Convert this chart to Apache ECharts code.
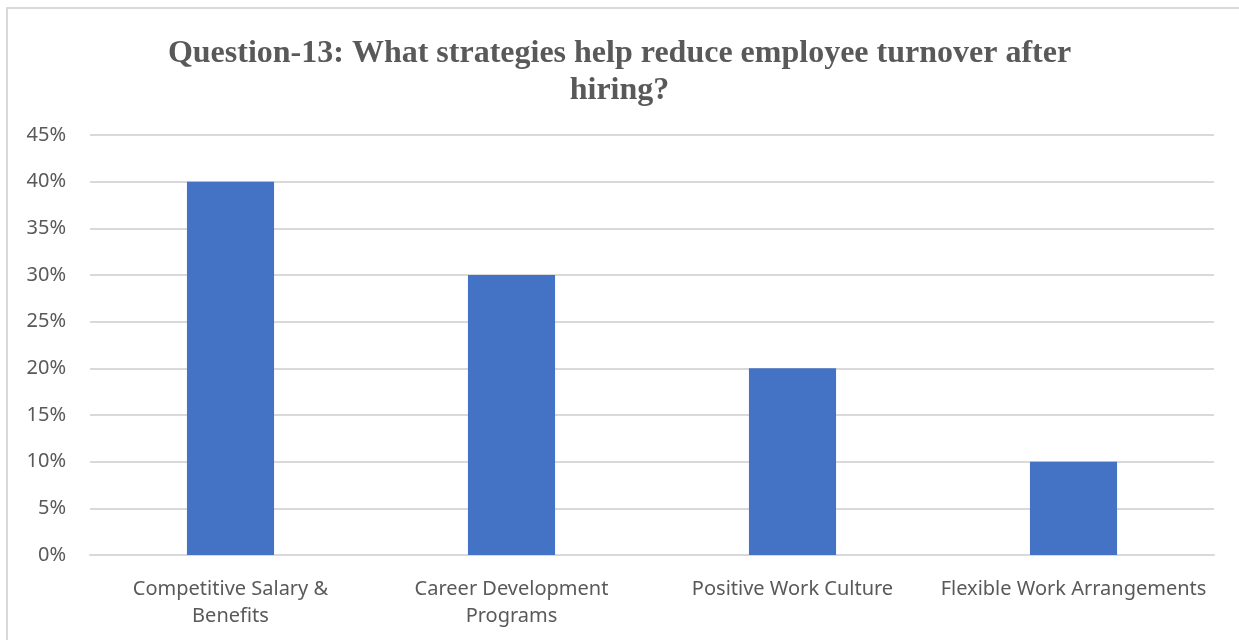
<!DOCTYPE html>
<html>
<head>
<meta charset="utf-8">
<script src="https://cdn.jsdelivr.net/npm/echarts@6/dist/echarts.min.js"></script>
<style>
  html, body { margin: 0; padding: 0; background: #fff; overflow: hidden; }
  #wrap { position: relative; width: 1239px; height: 640px; overflow: hidden; }
  #chart { width: 1239px; height: 640px; }
  #frame {
    position: absolute; left: 6px; top: 7px;
    width: 1400px; height: 800px;
    border: 2px solid #d9d9d9; pointer-events: none;
  }
</style>
</head>
<body>
<div id="wrap">
  <div id="chart"></div>
  <div id="frame"></div>
</div>
<script>
// Survey question and answer categories
const titleText = 'Question-13: What strategies help reduce employee turnover after\nhiring?';
const categories = [
  'Competitive Salary &\nBenefits',
  'Career Development\nPrograms',
  'Positive Work Culture',
  'Flexible Work Arrangements'
];
// Share of respondents (%)
const shares = [40, 30, 20, 10];
// Value axis range (%)
const axisMin = 0;
const axisMax = 45;
const axisStep = 5;

const textGray = '#595959';
const gridGray = '#d9d9d9';
const labelFont = '"Noto Sans", sans-serif';

const chart = echarts.init(document.getElementById('chart'));
chart.setOption({
  animation: false,
  backgroundColor: '#ffffff',
  title: {
    text: titleText,
    left: 'center',
    top: 30,
    textStyle: {
      fontFamily: '"Liberation Serif", "Times New Roman", serif',
      fontWeight: 'bold',
      fontSize: 32,
      color: textGray,
      lineHeight: 37,
      align: 'center'
    }
  },
  grid: { left: 90, right: 25, top: 135, bottom: 85 },
  xAxis: {
    type: 'category',
    data: categories,
    axisLine: { show: true, lineStyle: { color: gridGray, width: 2 } },
    axisTick: { show: false },
    axisLabel: {
      color: textGray,
      fontFamily: labelFont,
      fontSize: 20,
      lineHeight: 27,
      margin: 21,
      interval: 0
    }
  },
  yAxis: {
    type: 'value',
    min: axisMin,
    max: axisMax,
    interval: axisStep,
    axisLine: { show: false },
    axisTick: { show: false },
    splitLine: { lineStyle: { color: gridGray, width: 2 } },
    axisLabel: {
      color: textGray,
      fontFamily: labelFont,
      fontSize: 20,
      margin: 24,
      formatter: v => v + '%'
    }
  },
  series: [{
    type: 'bar',
    data: shares,
    barWidth: '31%',
    itemStyle: { color: '#4472C4' }
  }]
});
</script>
</body>
</html>
